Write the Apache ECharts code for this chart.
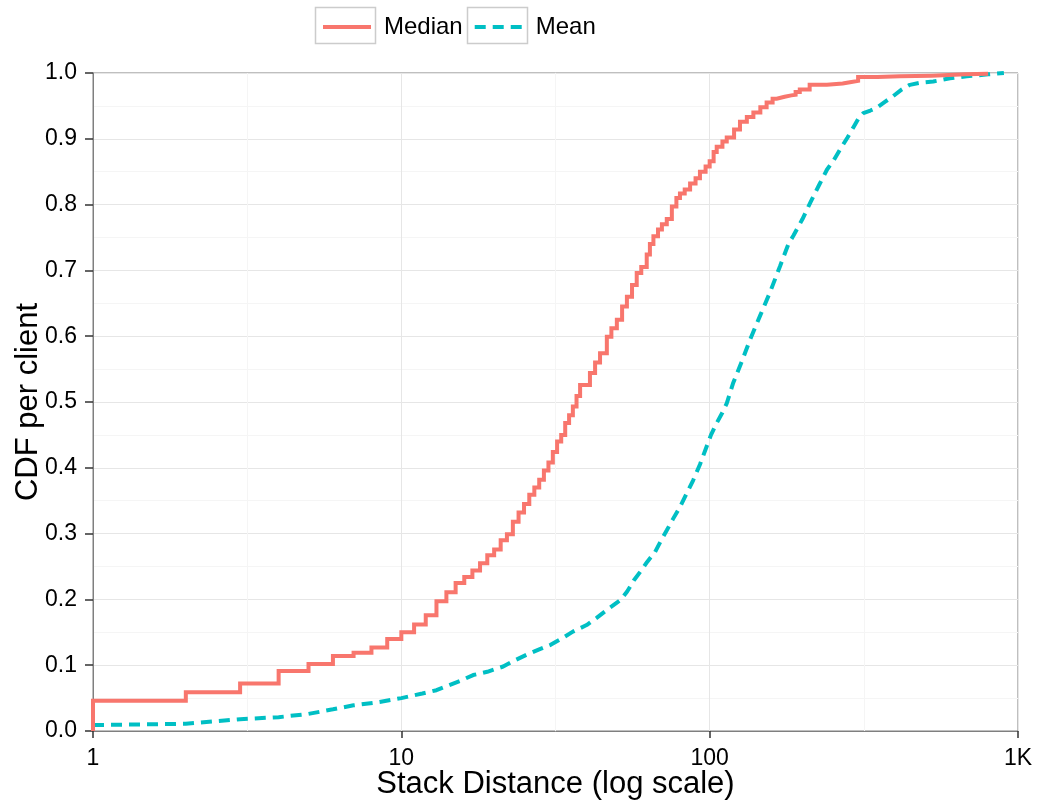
<!DOCTYPE html>
<html>
<head>
<meta charset="utf-8">
<title>Stack distance CDF</title>
<script src="https://cdn.jsdelivr.net/npm/echarts@6/dist/echarts.min.js"></script>
<style>
  html, body { margin: 0; padding: 0; background: #ffffff; }
  #chart { width: 1039px; height: 802px; }
</style>
</head>
<body>
<div id="chart"></div>
<script>
// Per-client CDF of median stack distance (ECDF steps: value after each jump)
const medianX = [1, 1, 2, 3, 4, 5, 6, 7, 8, 9, 10, 11, 12, 13, 14, 15, 16, 17, 18, 19, 20,
  21, 22, 23, 24, 25, 26, 27, 28, 29, 30, 31, 32, 33, 34, 35, 36, 37, 38,
  40.9, 42.5, 44.1, 46.4, 48, 50, 52, 53.9, 56, 58, 60, 62.5, 64, 65.7, 68, 70, 72.6,
  75.4, 78, 80.1, 83, 86.4, 90, 93, 97, 100, 103, 105.4, 110, 113.6, 120, 125.4, 132,
  138.6, 146, 153, 160, 165, 175, 184, 190, 196, 211, 240, 270, 285, 303, 350, 414,
  525, 676, 800];
const medianY = [0, 0.046, 0.059, 0.072, 0.091, 0.102, 0.114, 0.119, 0.127, 0.140, 0.150,
  0.162, 0.176, 0.197, 0.211, 0.225, 0.234, 0.244, 0.255, 0.267, 0.276,
  0.290, 0.299, 0.318, 0.332, 0.345, 0.359, 0.370, 0.382, 0.396, 0.408, 0.424, 0.440,
  0.450, 0.468, 0.480, 0.493, 0.509, 0.526,
  0.544, 0.560, 0.574, 0.599, 0.612, 0.625, 0.645, 0.660, 0.678, 0.696, 0.705, 0.724,
  0.740, 0.752, 0.762, 0.770, 0.778, 0.797, 0.810, 0.817, 0.823, 0.832, 0.840, 0.850,
  0.858, 0.866, 0.880, 0.888, 0.896, 0.902, 0.914, 0.926, 0.933, 0.940, 0.948, 0.955,
  0.961, 0.964, 0.966, 0.967, 0.971, 0.975, 0.982, 0.984, 0.986, 0.988, 0.994, 0.995,
  0.996, 0.998, 0.999, 1.0];

// Per-client CDF of mean stack distance
const meanX = [1, 2, 3, 4, 5, 6, 7, 8.5, 10, 11.7, 13, 14, 15.5, 17.1, 19, 21.4, 23, 25.5,
  28, 30.5, 33, 36, 39.9, 43, 46.4, 51.4, 54, 56.8, 60, 62.7, 66.5, 70, 72.6, 76, 80.2,
  84, 88.4, 93, 97.7, 101, 105.4, 110, 113.6, 119, 127, 135, 146, 157, 169, 180, 187,
  200, 212, 226, 240, 253, 265, 280, 293, 304, 315, 332, 348, 370, 394, 420, 446, 480,
  531, 602, 682, 800, 900];
const meanY = [0.009, 0.011, 0.018, 0.021, 0.026, 0.033, 0.039, 0.044, 0.050, 0.057, 0.062,
  0.068, 0.076, 0.085, 0.090, 0.098, 0.106, 0.116, 0.124, 0.131, 0.140, 0.151, 0.161,
  0.172, 0.184, 0.199, 0.212, 0.229, 0.244, 0.257, 0.272, 0.292, 0.305, 0.322, 0.341,
  0.360, 0.381, 0.405, 0.432, 0.450, 0.468, 0.484, 0.498, 0.528, 0.561, 0.594, 0.632,
  0.667, 0.706, 0.740, 0.753, 0.778, 0.803, 0.829, 0.853, 0.868, 0.884, 0.902, 0.918,
  0.931, 0.939, 0.943, 0.947, 0.956, 0.965, 0.975, 0.982, 0.985, 0.987, 0.992, 0.995,
  0.998, 1.0];

// Axis tick labels
const xTickLabels = { 1: '1', 10: '10', 100: '100', 1000: '1K' };
const seriesNames = ['Median', 'Mean'];

const zip = (xs, ys) => xs.map((x, i) => [x, ys[i]]);

const FONT = '"Liberation Sans", Arial, Helvetica, sans-serif';
const RED = '#F8766D';
const CYAN = '#00BFC4';

const chart = echarts.init(document.getElementById('chart'), null, { renderer: 'canvas' });

chart.setOption({
  backgroundColor: '#ffffff',
  animation: false,
  textStyle: { fontFamily: FONT },
  grid: {
    left: 93, right: 21, top: 73, bottom: 71,
    containLabel: false,
    outerBoundsMode: 'none',
    show: true,
    borderColor: '#7f7f7f',
    borderWidth: 1,
    backgroundColor: 'transparent'
  },
  legend: {
    data: seriesNames,
    left: 321,
    top: 15,
    padding: 0,
    itemWidth: 48,
    itemHeight: 24,
    itemGap: 10,
    // line-only keys: the marker circle is made invisible
    itemStyle: { color: 'rgba(0,0,0,0)', borderWidth: 0, opacity: 0 },
    lineStyle: { width: 4 },
    textStyle: { fontFamily: FONT, fontSize: 24, color: '#000', padding: [0, 0, 0, 8] }
  },
  graphic: [
    { type: 'rect', z: 100, silent: true,
      shape: { x: 315.5, y: 7.5, width: 60, height: 36 },
      style: { fill: 'none', stroke: '#cccccc', lineWidth: 1.5 } },
    { type: 'rect', z: 100, silent: true,
      shape: { x: 467.5, y: 7.5, width: 60, height: 36 },
      style: { fill: 'none', stroke: '#cccccc', lineWidth: 1.5 } }
  ],
  xAxis: [
    {
      type: 'log',
      logBase: 10,
      min: 1,
      max: 1000,
      name: 'Stack Distance (log scale)',
      nameLocation: 'middle',
      nameGap: 38,
      nameMoveOverlap: false,
      nameTextStyle: { fontFamily: FONT, fontSize: 31, color: '#000' },
      axisLine: { show: true, lineStyle: { color: '#7f7f7f', width: 1 } },
      axisTick: { show: true, length: 7, lineStyle: { color: '#333333', width: 1.5 } },
      axisLabel: {
        fontFamily: FONT, fontSize: 23, color: '#000', margin: 16,
        formatter: v => xTickLabels[Math.round(v)] !== undefined ? xTickLabels[Math.round(v)] : ''
      },
      splitLine: { show: true, lineStyle: { color: '#e6e6e6', width: 1 } }
    },
    {
      // decade exponents: supplies the faint half-decade grid lines
      type: 'value',
      min: 0,
      max: 3,
      interval: 1,
      position: 'top',
      axisLine: { show: false },
      axisTick: { show: false },
      axisLabel: { show: false },
      splitLine: { show: false },
      minorTick: { show: false, splitNumber: 2 },
      minorSplitLine: { show: true, lineStyle: { color: '#f5f5f5', width: 1 } }
    }
  ],
  yAxis: {
    type: 'value',
    min: 0,
    max: 1,
    interval: 0.1,
    name: 'CDF per client',
    nameLocation: 'middle',
    nameGap: 49,
    nameMoveOverlap: false,
    nameTextStyle: { fontFamily: FONT, fontSize: 31, color: '#000' },
    axisLine: { show: true, lineStyle: { color: '#7f7f7f', width: 1 } },
    axisTick: { show: true, length: 8, lineStyle: { color: '#333333', width: 1.5 } },
    axisLabel: {
      fontFamily: FONT, fontSize: 23, color: '#000', margin: 16,
      formatter: v => v.toFixed(1)
    },
    splitLine: { show: true, lineStyle: { color: '#e6e6e6', width: 1 } },
    minorTick: { show: false, splitNumber: 2 },
    minorSplitLine: { show: true, lineStyle: { color: '#f5f5f5', width: 1 } }
  },
  series: [
    {
      name: seriesNames[0],
      type: 'line',
      xAxisIndex: 0,
      step: 'end',
      data: zip(medianX, medianY),
      showSymbol: false,
      symbol: 'none',
      clip: true,
      lineStyle: { color: RED, width: 4, cap: 'butt', join: 'miter' },
      itemStyle: { color: RED },
      z: 3
    },
    {
      name: seriesNames[1],
      type: 'line',
      xAxisIndex: 0,
      data: zip(meanX, meanY),
      showSymbol: false,
      symbol: 'none',
      clip: true,
      lineStyle: { color: CYAN, width: 4, type: [11, 7], cap: 'butt' },
      itemStyle: { color: CYAN },
      z: 2
    }
  ]
});
</script>
</body>
</html>
